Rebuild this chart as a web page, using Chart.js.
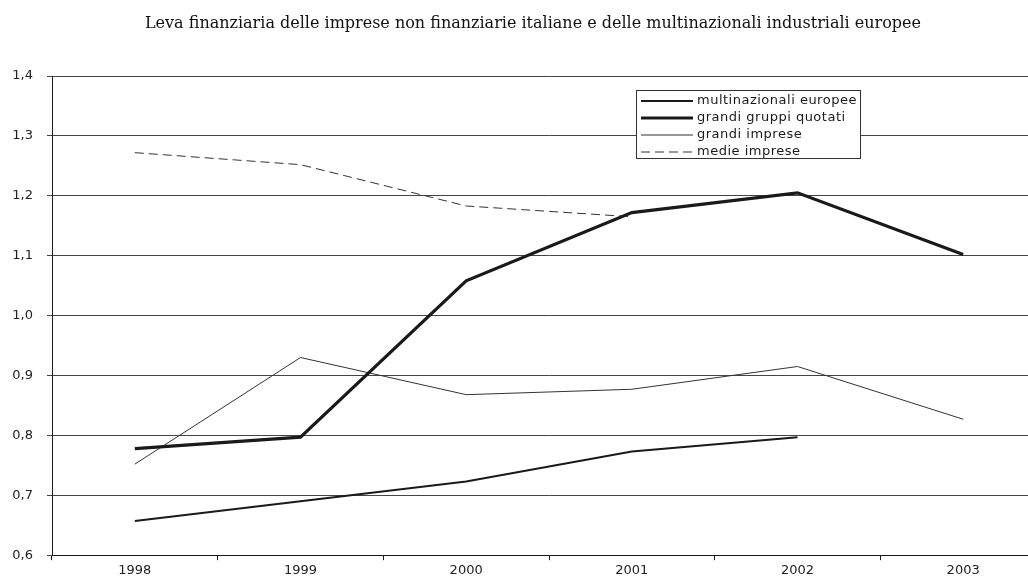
<!DOCTYPE html>
<html>
<head>
<meta charset="utf-8">
<script src="https://cdn.jsdelivr.net/npm/chart.js@4.4.1/dist/chart.umd.min.js"></script>
<style>
  html, body { margin: 0; padding: 0; background: #fff; }
  #wrap { width: 1028px; height: 577px; overflow: hidden; }
</style>
</head>
<body>
<div id="wrap"><canvas id="c" width="1046" height="577"></canvas></div>
<script>
// dati
const titolo = 'Leva finanziaria delle imprese non finanziarie italiane e delle multinazionali industriali europee';
const years = ['1998', '1999', '2000', '2001', '2002', '2003'];
const multinazionali = [0.657, 0.690, 0.723, 0.773, 0.797, null];
const grandiGruppi = [0.778, 0.797, 1.058, 1.172, 1.205, 1.102];
const grandiImprese = [0.752, 0.930, 0.868, 0.877, 0.915, 0.827];
const medieImprese = [1.272, 1.252, 1.183, 1.165, null, null];

const ink = '#1a1a1a';
const sans = '"DejaVu Sans", Verdana, sans-serif';

// titolo disegnato a mano per centrarlo come nell'originale
const titlePlugin = {
    id: 'titlePlugin',
    afterDraw(chart) {
        const ctx = chart.ctx;
        ctx.save();
        ctx.font = '16px "DejaVu Serif", serif';
        ctx.fillStyle = '#111';
        ctx.textAlign = 'center';
        ctx.textBaseline = 'middle';
        ctx.fillText(titolo, 533, 24);
        ctx.restore();
    }
};

// legenda dentro l'area del grafico, con fondo bianco
const boxLegend = {
    id: 'boxLegend',
    afterDatasetsDraw(chart) {
        const ctx = chart.ctx;
        const x = 636, y = 90, w = 224, h = 68;
        ctx.save();
        ctx.fillStyle = '#fff';
        ctx.fillRect(x, y, w, h);
        ctx.strokeStyle = '#333';
        ctx.lineWidth = 1;
        ctx.strokeRect(x + 0.5, y + 0.5, w, h);
        ctx.font = '13px ' + sans;
        ctx.letterSpacing = '0.5px';
        ctx.textBaseline = 'middle';
        chart.data.datasets.forEach((ds, i) => {
            const ly = y + 11 + i * 17;
            ctx.beginPath();
            ctx.strokeStyle = ds.borderColor;
            ctx.lineWidth = ds.borderWidth;
            ctx.setLineDash(ds.borderDash || []);
            ctx.moveTo(x + 5, ly);
            ctx.lineTo(x + 57, ly);
            ctx.stroke();
            ctx.setLineDash([]);
            ctx.fillStyle = ink;
            ctx.fillText(ds.label, x + 61, ly);
        });
        ctx.restore();
    }
};

new Chart(document.getElementById('c'), {
    type: 'line',
    data: {
        labels: years,
        datasets: [
            { label: 'multinazionali europee', data: multinazionali, borderColor: ink, borderWidth: 2 },
            { label: 'grandi gruppi quotati', data: grandiGruppi, borderColor: ink, borderWidth: 3.2 },
            { label: 'grandi imprese', data: grandiImprese, borderColor: '#333', borderWidth: 1 },
            { label: 'medie imprese', data: medieImprese, borderColor: '#333', borderWidth: 1, borderDash: [9, 5] }
        ]
    },
    options: {
        responsive: false,
        animation: false,
        spanGaps: false,
        elements: { point: { radius: 0 }, line: { tension: 0, fill: false } },
        layout: { padding: { left: 0, right: 0, top: 76, bottom: 0 } },
        plugins: {
            legend: { display: false },
            tooltip: { enabled: false },
            title: { display: false }
        },
        scales: {
            x: {
                offset: true,
                grid: { display: true, drawOnChartArea: false, offset: true, tickLength: 5, color: ink },
                border: { color: ink, width: 1 },
                ticks: { color: '#222', font: { family: sans, size: 13 }, padding: 3 },
                afterFit(s) { s.height = 21; }
            },
            y: {
                min: 0.6,
                max: 1.4,
                ticks: {
                    stepSize: 0.1,
                    color: '#222',
                    font: { family: sans, size: 13 },
                    padding: 14,
                    callback: (v) => v.toFixed(1).replace('.', ',')
                },
                grid: { color: '#444', lineWidth: 1, tickLength: 5 },
                border: { color: ink, width: 1 },
                afterFit(s) { s.width = 52; }
            }
        }
    },
    plugins: [boxLegend, titlePlugin]
});
</script>
</body>
</html>
